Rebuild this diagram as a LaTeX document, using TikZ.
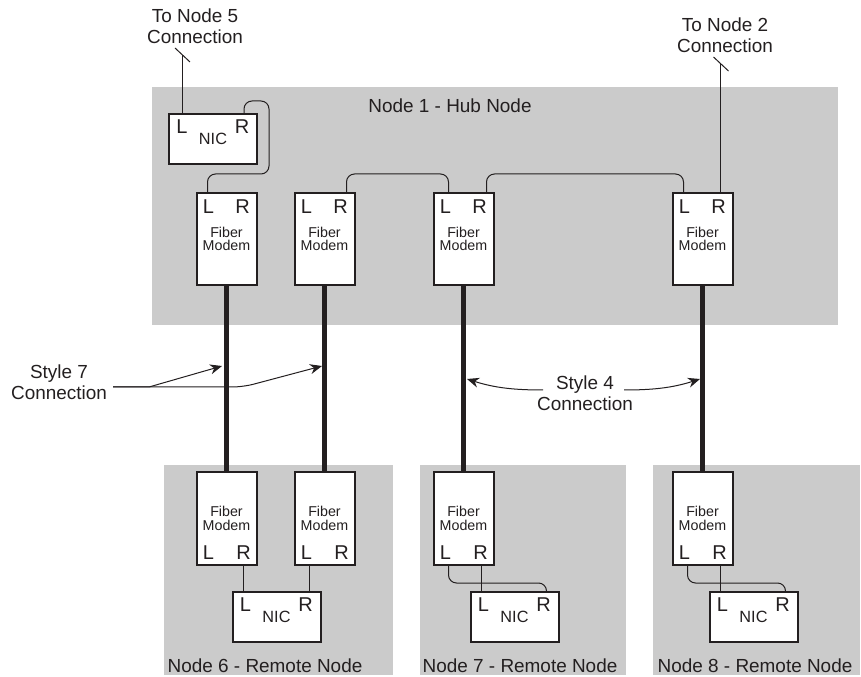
\documentclass[tikz,border=0pt]{standalone}
\usepackage{fontspec}
\setmainfont{Liberation Sans}
\usetikzlibrary{calc}
\usetikzlibrary{arrows.meta}

\definecolor{nodegray}{HTML}{CBCBCB}
\definecolor{inkdark}{HTML}{231F20}

\tikzset{
  modembox/.style={draw=inkdark, fill=white, line width=1.5pt, minimum width=45pt, inner sep=0pt, outer sep=0pt},
  nicbox/.style={draw=inkdark, fill=white, line width=1.5pt, minimum width=66pt, minimum height=37.5pt, inner sep=0pt, outer sep=0pt},
  tag/.style={text=inkdark, inner sep=0pt, font=\fontsize{14.2}{15.75}\selectfont, align=center},
  porttag/.style={text=inkdark, inner sep=0pt, font=\fontsize{15}{16}\selectfont},
  smalltag/.style={text=inkdark, inner sep=0pt, font=\fontsize{10.7}{10}\selectfont, align=center},
  nictag/.style={text=inkdark, inner sep=0pt, font=\fontsize{12.2}{14}\selectfont},
  wire/.style={draw=inkdark, line width=.75pt, rounded corners=6pt},
  cable/.style={draw=inkdark, line width=3.6pt},
  pointer/.style={draw=inkdark, line width=.75pt, -{Stealth[length=9pt,width=7.5pt]}}
}

\begin{document}
\begin{tikzpicture}[x=.75pt,y=-.75pt]
\useasboundingbox (0,0) rectangle (861,677);

% gray node areas
\fill[nodegray] (152,87) rectangle (838,325);
\fill[nodegray] (164,465) rectangle (393,675);
\fill[nodegray] (420,465) rectangle (626,675);
\fill[nodegray] (653,465) rectangle (860,675);

\node[tag] (hubname) at (450,106) {Node 1 - Hub Node};
\node[tag] (nameA) at (265,666) {Node 6 - Remote Node};
\node[tag] (nameB) at (520,666) {Node 7 - Remote Node};
\node[tag] (nameC) at (755,666) {Node 8 - Remote Node};

% modems in the hub
\foreach \m/\cx in {hubA/226.5, hubB/324.5, hubC/463.5, hubD/702.5} {
\node[modembox, minimum height=69pt] (\m) at (\cx,239) {};
\node[porttag] (\m L) at (\cx-18,207) {L};
\node[porttag] (\m R) at (\cx+16,207) {R};
\node[smalltag] (\m T) at (\cx,239) {Fiber\\Modem};
}

% modems in the remote nodes
\foreach \m/\cx in {remA/226.5, remB/324.5, remC/463.5, remD/702.5} {
\node[modembox, minimum height=69.75pt] (\m) at (\cx,518.5) {};
\node[porttag] (\m L) at (\cx-18,553) {L};
\node[porttag] (\m R) at (\cx+17,553) {R};
\node[smalltag] (\m T) at (\cx,518.5) {Fiber\\Modem};
}

% NICs
\foreach \n/\cx/\cy in {nicH/213/139, nicA/276.5/617, nicC/514.5/617, nicD/753.5/617} {
\node[nicbox] (\n) at (\cx,\cy) {};
\node[porttag] (\n L) at (\cx-31,\cy-12) {L};
\node[porttag] (\n R) at (\cx+29,\cy-12) {R};
\node[nictag] (\n T) at (\cx,\cy) {NIC};
}

% fiber runs
\foreach \a/\b in {hubA/remA, hubB/remB, hubC/remC, hubD/remD}
\draw[cable] (\a.south) -- (\b.north);

% wires in the hub
\draw[wire] ($(nicH.north west)+(75,0)$) --++(0,-13) --++(25,0) --++(0,73) -| ($(hubA.north west)+(11,0)$);
\draw[wire] ($(hubB.north west)+(52,0)$) |-++(51,-19) -- ($(hubC.north west)+(15,-19)$) -- ($(hubC.north west)+(15,0)$);
\draw[wire] ($(hubC.north west)+(53,0)$) --++(0,-19) -- ($(hubD.north west)+(11,-19)$) -- ($(hubD.north west)+(11,0)$);

% wires in the remote nodes
\draw[wire] ($(remA.south west)+(47,0)$) -- ($(nicA.north west)+(11,0)$);
\draw[wire] ($(remB.south west)+(15,0)$) -- ($(nicA.north west)+(77,0)$);
\foreach \m/\n in {remC/nicC, remD/nicD} {
\draw[wire] ($(\m.south west)+(48,0)$) -- ($(\n.north west)+(11,0)$);
\draw[wire] ($(\m.south west)+(15,0)$) --++(0,18) -- ($(\n.north west)+(76,-9)$) -- ($(\n.north west)+(76,0)$);
}

% outside links
\node[tag] (toE) at (195,26) {To Node 5\\Connection};
\node[tag] (toB) at (725,35) {To Node 2\\Connection};
\coordinate (breakE) at (182,55);
\coordinate (breakB) at (720.5,64);
\draw[wire] ($(nicH.north west)+(13,0)$) -- (breakE);
\draw[wire] ($(hubD.north west)+(48,0)$) -- (breakB);
\draw[wire] ($(breakE)+(-7,-7)$) -- ($(breakE)+(8,7)$);
\draw[wire] ($(breakB)+(-7,-7)$) -- ($(breakB)+(8,7)$);

% style labels
\node[tag] (styleG) at (59,382.5) {Style 7\\Connection};
\node[tag] (styleD) at (585,393) {Style 4\\Connection};

\coordinate (tipA) at (222,366);
\coordinate (tipB) at (322,366);
\coordinate (tipC) at (467,379);
\coordinate (tipD) at (700,379);

\draw[pointer] (113,387) -- (149,387) -- (tipA);
\draw[pointer, rounded corners=8pt] (113,387) -- (243,387) -- (tipB);
\draw[pointer] (543,390) .. controls (515,390) and (495,388) .. (tipC);
\draw[pointer] (624,390) .. controls (652,390) and (672,388) .. (tipD);
\end{tikzpicture}
\end{document}
